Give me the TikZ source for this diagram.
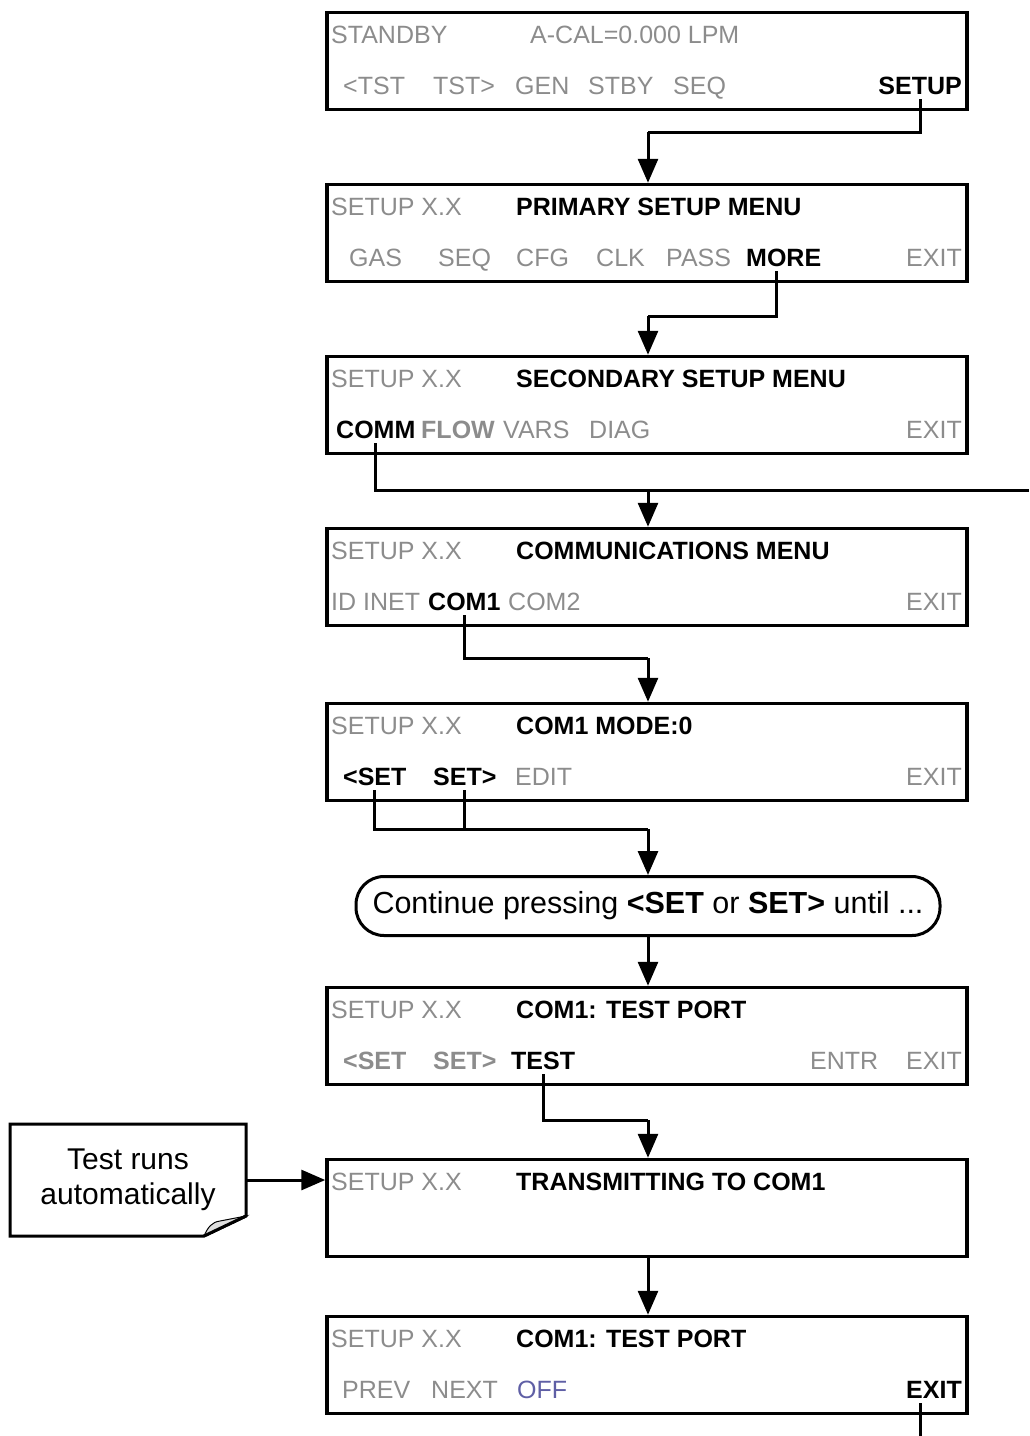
\documentclass[tikz,border=0pt]{standalone}
\usepackage{fontspec}
\setmainfont{Liberation Sans}
\usetikzlibrary{arrows.meta}
\definecolor{gtxt}{RGB}{140,140,140}
\definecolor{offc}{RGB}{95,95,165}
\begin{document}
\begin{tikzpicture}[x=1pt,y=-1pt,
  box/.style={draw,line width=3.5pt,minimum width=640pt,minimum height=97pt,inner sep=0pt},
  g/.style={font=\fontsize{25}{30}\selectfont,text=gtxt,inner xsep=0pt,inner ysep=2pt,anchor=base west},
  gb/.style={font=\fontsize{25}{30}\selectfont\bfseries,text=gtxt,inner xsep=0pt,inner ysep=2pt,anchor=base west},
  k/.style={font=\fontsize{25}{30}\selectfont\bfseries,text=black,inner xsep=0pt,inner ysep=5pt,anchor=base west},
  conn/.style={line width=3pt},
  arr/.style={line width=3pt,-{Triangle[width=20pt,length=24pt]}},
]
\useasboundingbox (0,0) rectangle (1029,1436);

% boxes
\node[box] (b1) at (647,61) {};
\node[box] (b2) at (647,233) {};
\node[box] (b3) at (647,405) {};
\node[box] (b4) at (647,577) {};
\node[box] (b5) at (647,752) {};
\node[box] (b7) at (647,1036) {};
\node[box] (b8) at (647,1208) {};
\node[box] (b9) at (647,1365) {};

% box 1
\node[g] (t1a) at (331,43) {STANDBY};
\node[g] (t1b) at (530,43) {A-CAL=0.000 LPM};
\node[g] (t1c) at (343,94) {<TST};
\node[g] (t1d) at (433,94) {TST>};
\node[g] (t1e) at (515,94) {GEN};
\node[g] (t1f) at (588,94) {STBY};
\node[g] (t1g) at (673,94) {SEQ};
\node[k,anchor=base east] (k1setup) at (962,94) {SETUP};

% box 2
\node[g] (t2a) at (331,215) {SETUP X.X};
\node[k] (t2b) at (516,215) {PRIMARY SETUP MENU};
\node[g] (t2c) at (349,266) {GAS};
\node[g] (t2d) at (438,266) {SEQ};
\node[g] (t2e) at (516,266) {CFG};
\node[g] (t2f) at (596,266) {CLK};
\node[g] (t2g) at (666,266) {PASS};
\node[k] (k2more) at (746,266) {MORE};
\node[g,anchor=base east] (t2h) at (962,266) {EXIT};

% box 3
\node[g] (t3a) at (331,387) {SETUP X.X};
\node[k] (t3b) at (516,387) {SECONDARY SETUP MENU};
\node[k] (k3comm) at (336,438) {COMM};
\node[gb] (t3c) at (421,438) {FLOW};
\node[g] (t3d) at (503,438) {VARS};
\node[g] (t3e) at (589,438) {DIAG};
\node[g,anchor=base east] (t3f) at (962,438) {EXIT};

% box 4
\node[g] (t4a) at (331,559) {SETUP X.X};
\node[k] (t4b) at (516,559) {COMMUNICATIONS MENU};
\node[g] (t4c) at (331,610) {ID INET};
\node[k] (k4com1) at (428,610) {COM1};
\node[g] (t4d) at (508,610) {COM2};
\node[g,anchor=base east] (t4e) at (962,610) {EXIT};

% box 5
\node[g] (t5a) at (331,734) {SETUP X.X};
\node[k] (t5b) at (516,734) {COM1 MODE:0};
\node[k] (k5lset) at (343,785) {<SET};
\node[k] (k5rset) at (433,785) {SET>};
\node[g] (t5c) at (515,785) {EDIT};
\node[g,anchor=base east] (t5d) at (962,785) {EXIT};

% rounded box
\node[draw,line width=3pt,rounded corners=28pt,minimum width=584pt,minimum height=59pt,
      font=\fontsize{30.5}{36}\selectfont,inner xsep=4pt] (r6) at (648,906)
      {Continue pressing \textbf{<SET} or \textbf{SET>} until ...};

% box 7
\node[g] (t7a) at (331,1018) {SETUP X.X};
\node[k] (t7b) at (516,1018) {COM1: TEST PORT};
\node[gb] (t7c) at (343,1069) {<SET};
\node[gb] (t7d) at (433,1069) {SET>};
\node[k] (k7test) at (511,1069) {TEST};
\node[g] (t7e) at (810,1069) {ENTR};
\node[g,anchor=base east] (t7f) at (962,1069) {EXIT};

% box 8
\node[g] (t8a) at (331,1190) {SETUP X.X};
\node[k] (t8b) at (516,1190) {TRANSMITTING TO COM1};

% box 9
\node[g] (t9a) at (331,1347) {SETUP X.X};
\node[k] (t9b) at (516,1347) {COM1: TEST PORT};
\node[g] (t9c) at (342,1398) {PREV};
\node[g] (t9d) at (431,1398) {NEXT};
\node[g,text=offc] (t9e) at (517,1398) {OFF};
\node[k,anchor=base east] (k9exit) at (962,1398) {EXIT};

% callout
\draw[line width=3pt,fill=white] (10,1124) -- (246,1124) -- (246,1216) -- (204,1236) -- (10,1236) -- cycle;
\draw[line width=1pt,fill=gray!25] (204,1236) .. controls (208,1227) and (212,1222) .. (220,1221) -- (246,1216) -- cycle;
\draw[line width=3pt] (246,1216) -- (204,1236);
\node[font=\fontsize{30}{35}\selectfont,align=center] (ct) at (128,1180) {Test runs\\automatically};

% junction coordinates
\coordinate (j1) at (648,132);
\coordinate (j2) at (648,316);
\coordinate (j3) at (648,490);
\coordinate (e3) at (1029,490);
\coordinate (j4) at (648,658);
\coordinate (j5) at (648,829);
\coordinate (j7) at (648,1120);
\coordinate (e9) at (920,1436);
\coordinate (co) at (246,1180);

% connectors
\draw[conn] (k1setup.south) |- (j1);
\draw[arr] (j1) -- (j1 |- b2.north);
\draw[conn] ([xshift=-7pt]k2more.south) |- (j2);
\draw[arr] (j2) -- (j2 |- b3.north);
\draw[conn] (k3comm.south) |- (e3);
\draw[arr] (j3) -- (j3 |- b4.north);
\draw[conn] (k4com1.south) |- (j4);
\draw[arr] (j4) -- (j4 |- b5.north);
\draw[conn] (k5lset.south) |- (j5);
\draw[conn] (k5rset.south) -- (k5rset.south |- j5);
\draw[arr] (j5) -- (j5 |- r6.north);
\draw[arr] (j5 |- r6.south) -- (j5 |- b7.north);
\draw[conn] (k7test.south) |- (j7);
\draw[arr] (j7) -- (j7 |- b8.north);
\draw[arr] (j7 |- b8.south) -- (j7 |- b9.north);
\draw[conn] (k9exit.south -| e9) -- (e9);
\draw[arr] (co) -- (co -| b8.west);
\end{tikzpicture}
\end{document}
